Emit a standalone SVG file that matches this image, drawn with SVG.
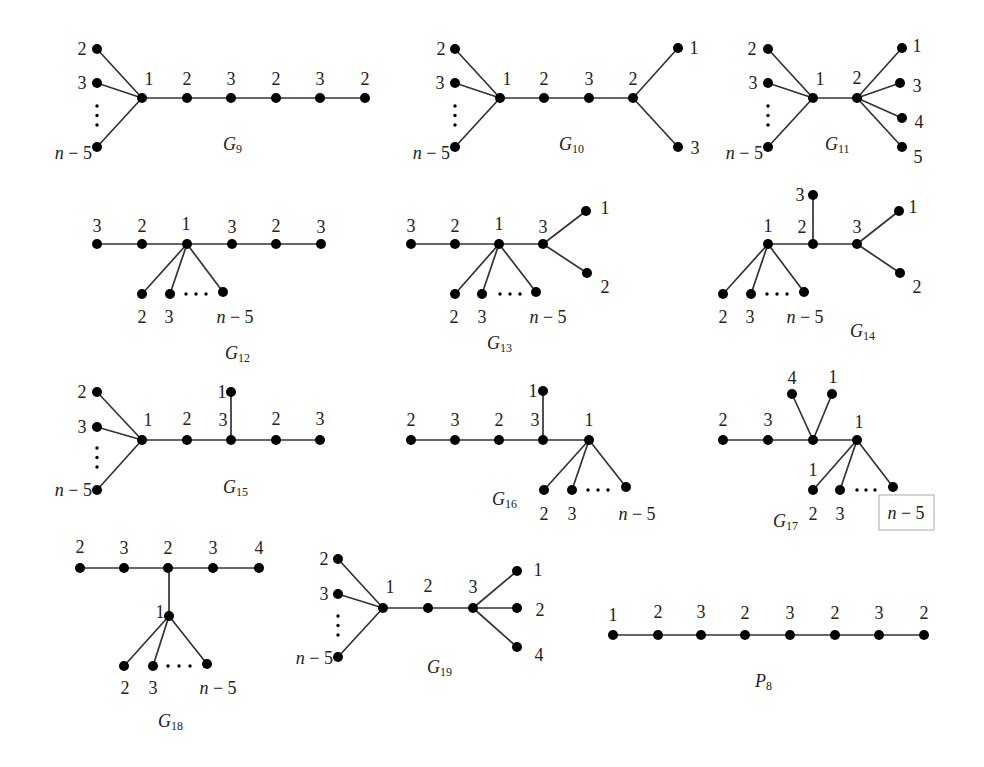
<svg xmlns="http://www.w3.org/2000/svg" width="984" height="767" viewBox="0 0 984 767">
<style>
.e{stroke:#333;stroke-width:1.7;fill:none;stroke-linecap:round}
.n circle{fill:#000}
.d{fill:#000}
text{font-family:"Liberation Serif","DejaVu Serif",serif;font-size:18px;fill:#222;text-anchor:middle}
.s{font-size:12px}
.i{font-style:italic}
.end{text-anchor:end}
.st{text-anchor:start}
.box{fill:none;stroke:#aaa;stroke-width:1}
</style>
<rect width="984" height="767" fill="#fff"/>
<g id="connectors">
<!-- G9 -->
<path class="e" d="M97,49L142,98M97,83L142,98M97,147L142,98M142,98H365"/>
<!-- G10 -->
<path class="e" d="M455,49L500,98M455,83L500,98M455,147L500,98M500,98H633M633,98L678,48M633,98L678,147"/>
<!-- G11 -->
<path class="e" d="M768,49L813,98M768,83L813,98M768,147L813,98M813,98H857M857,98L902,48M857,98L900,83M857,98L902,118M857,98L902,147"/>
<!-- G12 -->
<path class="e" d="M97,244H321M187,244L142,294M187,244L170,294M187,244L223,292"/>
<!-- G13 -->
<path class="e" d="M411,244H543M543,244L586,211M543,244L587,273M499,244L455,294M499,244L482,294M499,244L536,292"/>
<!-- G14 -->
<path class="e" d="M768,244H857M813,244V195M857,244L899,211M857,244L900,273M768,244L723,294M768,244L751,294M768,244L804,292"/>
<!-- G15 -->
<path class="e" d="M97,392L142,440M97,427L142,440M97,490L142,440M142,440H320M231,440V392"/>
<!-- G16 -->
<path class="e" d="M411,440H589M543,440V391M589,440L544,490M589,440L572,490M589,440L626,487"/>
<!-- G17 -->
<path class="e" d="M723,440H857M813,440L792,394M813,440L832,394M857,440L813,490M857,440L840,490M857,440L893,487"/>
<!-- G18 -->
<path class="e" d="M80,568H259M169,568V616M169,616L124,666M169,616L153,666M169,616L207,664"/>
<!-- G19 -->
<path class="e" d="M338,559L383,608M338,594L383,608M338,657L383,608M383,608H473M473,608L517,571M473,608L517,608M473,608L517,647"/>
<!-- P8 -->
<path class="e" d="M613,635H924"/>
</g>

<g id="G9" class="n">
<circle cx="97" cy="49" r="5"/><circle cx="97" cy="83" r="5"/><circle cx="97" cy="147" r="5"/>
<circle cx="142" cy="98" r="5"/><circle cx="187" cy="98" r="5"/><circle cx="231" cy="98" r="5"/><circle cx="276" cy="98" r="5"/><circle cx="320" cy="98" r="5"/><circle cx="365" cy="98" r="5"/>
<circle class="d" cx="97" cy="106" r="1.7"/><circle class="d" cx="97" cy="115.5" r="1.7"/><circle class="d" cx="97" cy="125" r="1.7"/>
<text x="82" y="55">2</text><text x="82" y="89">3</text>
<text class="end" x="92" y="159"><tspan class="i">n</tspan> − 5</text>
<text x="149" y="85">1</text><text x="187" y="85">2</text><text x="231" y="85">3</text><text x="276" y="85">2</text><text x="320" y="85">3</text><text x="365" y="85">2</text>
<text class="st" x="223" y="150"><tspan class="i">G</tspan><tspan class="s" dy="3">9</tspan></text>
</g>

<g id="G10" class="n">
<circle cx="455" cy="49" r="5"/><circle cx="455" cy="83" r="5"/><circle cx="455" cy="147" r="5"/>
<circle cx="500" cy="98" r="5"/><circle cx="544" cy="98" r="5"/><circle cx="589" cy="98" r="5"/><circle cx="633" cy="98" r="5"/>
<circle cx="678" cy="48" r="5"/><circle cx="678" cy="147" r="5"/>
<circle class="d" cx="455" cy="106" r="1.7"/><circle class="d" cx="455" cy="115.5" r="1.7"/><circle class="d" cx="455" cy="125" r="1.7"/>
<text x="441" y="55">2</text><text x="440" y="89">3</text>
<text class="end" x="450" y="159"><tspan class="i">n</tspan> − 5</text>
<text x="507" y="85">1</text><text x="544" y="85">2</text><text x="589" y="85">3</text><text x="633" y="85">2</text>
<text x="694" y="54">1</text><text x="695" y="154">3</text>
<text class="st" x="559" y="150"><tspan class="i">G</tspan><tspan class="s" dy="3">10</tspan></text>
</g>

<g id="G11" class="n">
<circle cx="768" cy="49" r="5"/><circle cx="768" cy="83" r="5"/><circle cx="768" cy="147" r="5"/>
<circle cx="813" cy="98" r="5"/><circle cx="857" cy="98" r="5"/>
<circle cx="902" cy="48" r="5"/><circle cx="900" cy="83" r="5"/><circle cx="902" cy="118" r="5"/><circle cx="902" cy="147" r="5"/>
<circle class="d" cx="768" cy="106" r="1.7"/><circle class="d" cx="768" cy="115.5" r="1.7"/><circle class="d" cx="768" cy="125" r="1.7"/>
<text x="752" y="55">2</text><text x="753" y="89">3</text>
<text class="end" x="763" y="159"><tspan class="i">n</tspan> − 5</text>
<text x="820" y="85">1</text><text x="857" y="84">2</text>
<text x="917" y="52">1</text><text x="917" y="92">3</text><text x="919" y="128">4</text><text x="918" y="163">5</text>
<text class="st" x="825" y="150"><tspan class="i">G</tspan><tspan class="s" dy="3">11</tspan></text>
</g>

<g id="G12" class="n">
<circle cx="97" cy="244" r="5"/><circle cx="142" cy="244" r="5"/><circle cx="187" cy="244" r="5"/><circle cx="232" cy="244" r="5"/><circle cx="276" cy="244" r="5"/><circle cx="321" cy="244" r="5"/>
<circle cx="142" cy="294" r="5"/><circle cx="170" cy="294" r="5"/><circle cx="223" cy="292" r="5"/>
<circle class="d" cx="186" cy="294" r="1.7"/><circle class="d" cx="196" cy="294" r="1.7"/><circle class="d" cx="206" cy="294" r="1.7"/>
<text x="97" y="232">3</text><text x="142" y="232">2</text><text x="186" y="230">1</text><text x="232" y="233">3</text><text x="276" y="232">2</text><text x="321" y="233">3</text>
<text x="142" y="323">2</text><text x="169" y="323">3</text><text x="235" y="323"><tspan class="i">n</tspan> − 5</text>
<text class="st" x="225" y="359"><tspan class="i">G</tspan><tspan class="s" dy="3">12</tspan></text>
</g>

<g id="G13" class="n">
<circle cx="411" cy="244" r="5"/><circle cx="455" cy="244" r="5"/><circle cx="499" cy="244" r="5"/><circle cx="543" cy="244" r="5"/>
<circle cx="586" cy="211" r="5"/><circle cx="587" cy="273" r="5"/>
<circle cx="455" cy="294" r="5"/><circle cx="482" cy="294" r="5"/><circle cx="536" cy="292" r="5"/>
<circle class="d" cx="500" cy="294" r="1.7"/><circle class="d" cx="510" cy="294" r="1.7"/><circle class="d" cx="520" cy="294" r="1.7"/>
<text x="411" y="232">3</text><text x="455" y="232">2</text><text x="499" y="230">1</text><text x="543" y="233">3</text>
<text x="605" y="214">1</text><text x="605" y="293">2</text>
<text x="454" y="323">2</text><text x="482" y="323">3</text><text x="548" y="323"><tspan class="i">n</tspan> − 5</text>
<text class="st" x="487" y="349"><tspan class="i">G</tspan><tspan class="s" dy="3">13</tspan></text>
</g>

<g id="G14" class="n">
<circle cx="768" cy="244" r="5"/><circle cx="813" cy="244" r="5"/><circle cx="857" cy="244" r="5"/>
<circle cx="813" cy="195" r="5"/>
<circle cx="899" cy="211" r="5"/><circle cx="900" cy="273" r="5"/>
<circle cx="723" cy="294" r="5"/><circle cx="751" cy="294" r="5"/><circle cx="804" cy="292" r="5"/>
<circle class="d" cx="767" cy="294" r="1.7"/><circle class="d" cx="777" cy="294" r="1.7"/><circle class="d" cx="787" cy="294" r="1.7"/>
<text x="800" y="201">3</text>
<text x="768" y="232">1</text><text x="802" y="233">2</text><text x="857" y="233">3</text>
<text x="913" y="213">1</text><text x="917" y="293">2</text>
<text x="723" y="323">2</text><text x="750" y="323">3</text><text x="805" y="323"><tspan class="i">n</tspan> − 5</text>
<text class="st" x="850" y="337"><tspan class="i">G</tspan><tspan class="s" dy="3">14</tspan></text>
</g>

<g id="G15" class="n">
<circle cx="97" cy="392" r="5"/><circle cx="97" cy="427" r="5"/><circle cx="97" cy="490" r="5"/>
<circle cx="142" cy="440" r="5"/><circle cx="187" cy="440" r="5"/><circle cx="231" cy="440" r="5"/><circle cx="276" cy="440" r="5"/><circle cx="320" cy="440" r="5"/>
<circle cx="231" cy="392" r="5"/>
<circle class="d" cx="97" cy="448" r="1.7"/><circle class="d" cx="97" cy="457.5" r="1.7"/><circle class="d" cx="97" cy="467" r="1.7"/>
<text x="82" y="398">2</text><text x="82" y="433">3</text>
<text class="end" x="92" y="496"><tspan class="i">n</tspan> − 5</text>
<text x="222" y="398">1</text><text x="223" y="426">3</text>
<text x="148" y="426">1</text><text x="187" y="425">2</text><text x="276" y="425">2</text><text x="320" y="425">3</text>
<text class="st" x="223" y="493"><tspan class="i">G</tspan><tspan class="s" dy="3">15</tspan></text>
</g>

<g id="G16" class="n">
<circle cx="411" cy="440" r="5"/><circle cx="455" cy="440" r="5"/><circle cx="499" cy="440" r="5"/><circle cx="543" cy="440" r="5"/><circle cx="589" cy="440" r="5"/>
<circle cx="543" cy="391" r="5"/>
<circle cx="544" cy="490" r="5"/><circle cx="572" cy="490" r="5"/><circle cx="626" cy="487" r="5"/>
<circle class="d" cx="588" cy="490" r="1.7"/><circle class="d" cx="598" cy="490" r="1.7"/><circle class="d" cx="608" cy="490" r="1.7"/>
<text x="533" y="397">1</text>
<text x="411" y="426">2</text><text x="455" y="426">3</text><text x="499" y="426">2</text><text x="535" y="426">3</text><text x="589" y="426">1</text>
<text x="544" y="520">2</text><text x="572" y="520">3</text><text x="637" y="520"><tspan class="i">n</tspan> − 5</text>
<text class="st" x="492" y="505"><tspan class="i">G</tspan><tspan class="s" dy="3">16</tspan></text>
</g>

<g id="G17" class="n">
<circle cx="723" cy="440" r="5"/><circle cx="768" cy="440" r="5"/><circle cx="813" cy="440" r="5"/><circle cx="857" cy="440" r="5"/>
<circle cx="792" cy="394" r="5"/><circle cx="832" cy="394" r="5"/>
<circle cx="813" cy="490" r="5"/><circle cx="840" cy="490" r="5"/><circle cx="893" cy="487" r="5"/>
<circle class="d" cx="857" cy="490" r="1.7"/><circle class="d" cx="866" cy="490" r="1.7"/><circle class="d" cx="875" cy="490" r="1.7"/>
<text x="792" y="384">4</text><text x="833" y="383">1</text>
<text x="723" y="426">2</text><text x="768" y="426">3</text><text x="859" y="428">1</text>
<text x="813" y="476">1</text>
<text x="813" y="520">2</text><text x="840" y="520">3</text>
<rect class="box" x="879" y="495" width="55" height="35"/>
<text x="906" y="519"><tspan class="i">n</tspan> − 5</text>
<text class="st" x="773" y="527"><tspan class="i">G</tspan><tspan class="s" dy="3">17</tspan></text>
</g>

<g id="G18" class="n">
<circle cx="80" cy="568" r="5"/><circle cx="124" cy="568" r="5"/><circle cx="168" cy="568" r="5"/><circle cx="213" cy="568" r="5"/><circle cx="259" cy="568" r="5"/>
<circle cx="169" cy="616" r="5"/>
<circle cx="124" cy="666" r="5"/><circle cx="153" cy="666" r="5"/><circle cx="207" cy="664" r="5"/>
<circle class="d" cx="168" cy="666" r="1.7"/><circle class="d" cx="179" cy="666" r="1.7"/><circle class="d" cx="190" cy="666" r="1.7"/>
<text x="80" y="553">2</text><text x="124" y="554">3</text><text x="168" y="554">2</text><text x="213" y="554">3</text><text x="259" y="554">4</text>
<text x="160" y="618">1</text>
<text x="125" y="694">2</text><text x="153" y="694">3</text><text x="218" y="694"><tspan class="i">n</tspan> − 5</text>
<text class="st" x="158" y="727"><tspan class="i">G</tspan><tspan class="s" dy="3">18</tspan></text>
</g>

<g id="G19" class="n">
<circle cx="338" cy="559" r="5"/><circle cx="338" cy="594" r="5"/><circle cx="338" cy="657" r="5"/>
<circle cx="383" cy="608" r="5"/><circle cx="428" cy="608" r="5"/><circle cx="473" cy="608" r="5"/>
<circle cx="517" cy="571" r="5"/><circle cx="517" cy="608" r="5"/><circle cx="517" cy="647" r="5"/>
<circle class="d" cx="338" cy="616" r="1.7"/><circle class="d" cx="338" cy="625.5" r="1.7"/><circle class="d" cx="338" cy="635" r="1.7"/>
<text x="324" y="565">2</text><text x="324" y="600">3</text>
<text class="end" x="333" y="664"><tspan class="i">n</tspan> − 5</text>
<text x="390" y="593">1</text><text x="428" y="592">2</text><text x="473" y="593">3</text>
<text x="538" y="576">1</text><text x="540" y="616">2</text><text x="539" y="661">4</text>
<text class="st" x="427" y="673"><tspan class="i">G</tspan><tspan class="s" dy="3">19</tspan></text>
</g>

<g id="P8" class="n">
<circle cx="613" cy="635" r="5"/><circle cx="658" cy="635" r="5"/><circle cx="701" cy="635" r="5"/><circle cx="745" cy="635" r="5"/><circle cx="790" cy="635" r="5"/><circle cx="835" cy="635" r="5"/><circle cx="879" cy="635" r="5"/><circle cx="924" cy="635" r="5"/>
<text x="613" y="621">1</text><text x="658" y="618">2</text><text x="701" y="618">3</text><text x="745" y="619">2</text><text x="790" y="619">3</text><text x="835" y="619">2</text><text x="879" y="619">3</text><text x="924" y="619">2</text>
<text class="st" x="755" y="687"><tspan class="i">P</tspan><tspan class="s" dy="3">8</tspan></text>
</g>
</svg>
